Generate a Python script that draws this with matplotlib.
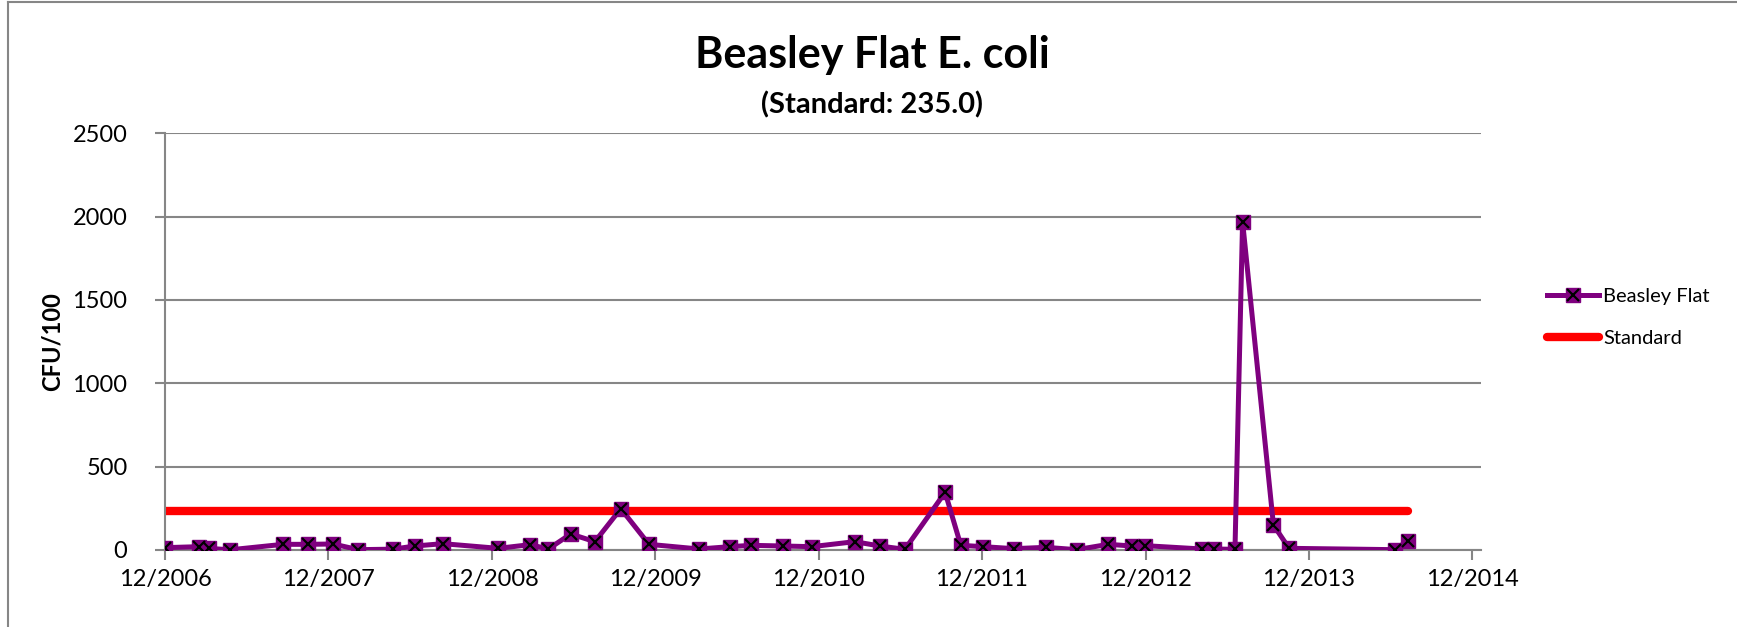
import matplotlib
matplotlib.use("Agg")
import matplotlib.pyplot as plt
import matplotlib.dates as mdates
from matplotlib.lines import Line2D
import numpy as np
import pandas as pd

plt.rcParams['font.family'] = ['Lato', 'DejaVu Sans']

dates = ["2006-12-01", "2007-02-15", "2007-03-09", "2007-04-25", "2007-08-22",
         "2007-10-17", "2007-12-12", "2008-02-06", "2008-04-24", "2008-06-12",
         "2008-08-13", "2008-12-15", "2009-02-24", "2009-04-06", "2009-05-26",
         "2009-07-19", "2009-09-15", "2009-11-17", "2010-03-09", "2010-05-17",
         "2010-07-04", "2010-09-13", "2010-11-16", "2011-02-20", "2011-04-17",
         "2011-06-12", "2011-09-10", "2011-10-15", "2011-12-04", "2012-02-11",
         "2012-04-22", "2012-06-30", "2012-09-09", "2012-10-31", "2012-11-30",
         "2013-04-06", "2013-05-03", "2013-06-19", "2013-07-06", "2013-09-13",
         "2013-10-18", "2014-06-11", "2014-07-11"]
ecoli = [14, 20, 10, 1, 34,
         34, 36, 2, 5, 24,
         38, 10, 32, 6, 96,
         50, 248, 34, 6, 20,
         28, 24, 20, 50, 24,
         4, 346, 28, 20, 8,
         16, 2, 34, 24, 26,
         6, 6, 4, 1970, 150,
         10, 2, 56]
standard_value = 235.0
x_ticks = ["2006-12-01", "2007-12-01", "2008-12-01", "2009-12-01", "2010-12-01",
           "2011-12-01", "2012-12-01", "2013-12-01", "2014-12-01"]
y_ticks = [0, 500, 1000, 1500, 2000, 2500]

d = pd.to_datetime(dates)
std = [standard_value] * len(dates)

fig = plt.figure(figsize=(17.37, 6.27), dpi=100)
ax = fig.add_axes([165/1737, 1-550/627, (1481-165)/1737, (550-133.3)/627])

purple = "#7F007F"
l_std, = ax.plot(d, std, color="#FF0000", lw=6, solid_capstyle="round", zorder=2, label="Standard")
l_data, = ax.plot(d, ecoli, color=purple, lw=3.6, marker="s", markersize=10.5,
                  markerfacecolor=purple, markeredgecolor=purple, zorder=3)
l_x, = ax.plot(d, ecoli, lw=0, marker="x", markersize=9, markeredgecolor="black",
               markeredgewidth=1.6, zorder=4)

ax.set_xlim(pd.Timestamp("2006-12-01"), pd.Timestamp("2006-12-01") + pd.Timedelta(days=2942))
ax.set_ylim(0, 2500)
ax.set_yticks(y_ticks)
ax.set_xticks(pd.to_datetime(x_ticks))
ax.xaxis.set_major_formatter(mdates.DateFormatter("%m/%Y"))

ax.grid(axis="y", color="#868686", lw=1.5)
ax.set_axisbelow(True)
for s in ["top", "right"]:
    ax.spines[s].set_visible(False)
for s in ["left", "bottom"]:
    ax.spines[s].set_color("#868686")
    ax.spines[s].set_linewidth(1.5)
ax.tick_params(axis="both", colors="#868686", labelcolor="black", labelsize=17, width=1.5)
ax.tick_params(axis="y", length=7, pad=20)
ax.tick_params(axis="x", length=7, pad=7)

ax.set_ylabel("CFU/100", fontsize=17, fontweight="bold")
ax.yaxis.set_label_coords((64-165)/1316, 0.5)

fig.text(872/1737, 1-55/627, "Beasley Flat E. coli", ha="center", va="center",
         fontsize=31, fontweight="bold")
fig.text(872/1737, 1-105/627, "(Standard: 235.0)", ha="center", va="center",
         fontsize=21, fontweight="bold")

leg = fig.legend([(l_data, l_x), l_std], ["Beasley Flat", "Standard"],
                 loc="upper left", bbox_to_anchor=(1539/1737, 1-280/627),
                 frameon=False, fontsize=14.5, handlelength=2.6, handletextpad=0.2,
                 labelspacing=1.25, borderaxespad=0)

# chart-area border
fig.add_artist(Line2D([8/1737, 1], [1-2/627, 1-2/627], transform=fig.transFigure,
                      color="#868686", lw=1.5))
fig.add_artist(Line2D([8/1737, 8/1737], [0, 1-2/627], transform=fig.transFigure,
                      color="#868686", lw=1.5))

fig.savefig("out.png", dpi=100)
